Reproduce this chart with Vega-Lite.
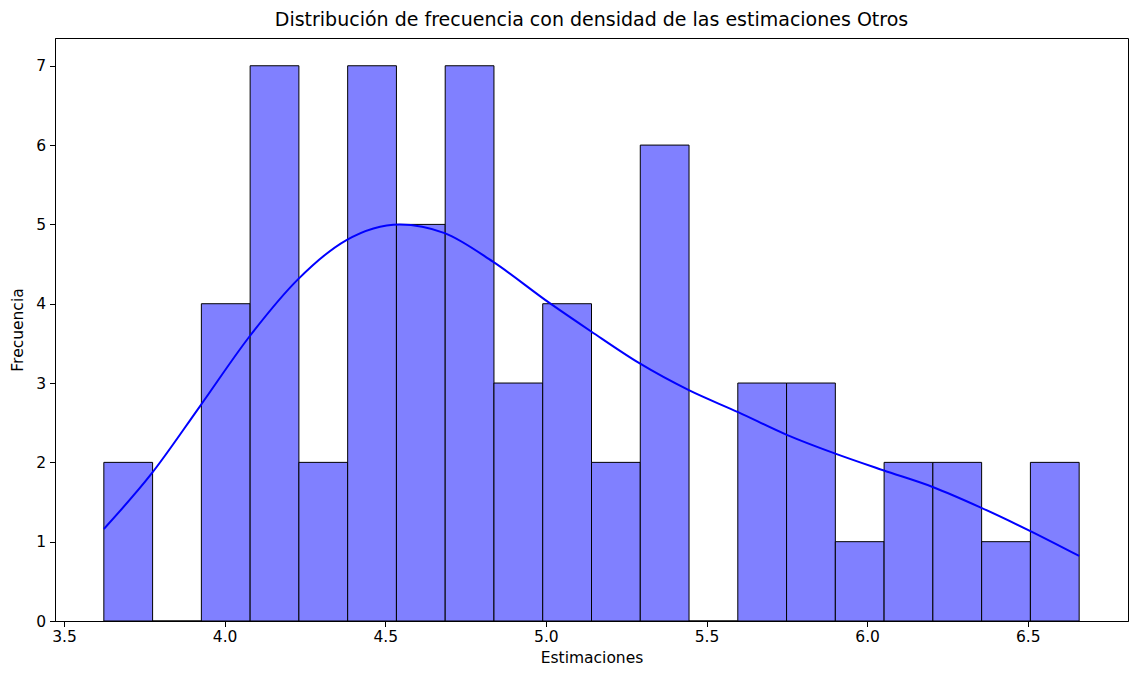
{
  "$schema": "https://vega.github.io/schema/vega-lite/v6.json",
  "autosize": {"type": "none"},
  "width": 1073,
  "height": 583,
  "padding": {"left": 55, "top": 38, "right": 4, "bottom": 61},
  "background": "white",
  "title": {
    "text": "Distribución de frecuencia con densidad de las estimaciones Otros",
    "font": "DejaVu Sans",
    "fontSize": 19,
    "fontWeight": "normal",
    "color": "black",
    "anchor": "middle",
    "offset": 8
  },
  "config": {
    "view": {"stroke": "black", "strokeWidth": 1},
    "axis": {
      "grid": false,
      "domainColor": "black",
      "tickColor": "black",
      "tickSize": 5.5,
      "labelFont": "DejaVu Sans",
      "labelFontSize": 15.5,
      "labelColor": "black",
      "titleFont": "DejaVu Sans",
      "titleFontSize": 15.5,
      "titleFontWeight": "normal",
      "titleColor": "black"
    }
  },
  "datasets": {
    "bins": [
      {"start": 3.624, "end": 3.7758, "count": 2},
      {"start": 3.7758, "end": 3.9276, "count": 0},
      {"start": 3.9276, "end": 4.0794, "count": 4},
      {"start": 4.0794, "end": 4.2312, "count": 7},
      {"start": 4.2312, "end": 4.383, "count": 2},
      {"start": 4.383, "end": 4.5348, "count": 7},
      {"start": 4.5348, "end": 4.6866, "count": 5},
      {"start": 4.6866, "end": 4.8384, "count": 7},
      {"start": 4.8384, "end": 4.9902, "count": 3},
      {"start": 4.9902, "end": 5.142, "count": 4},
      {"start": 5.142, "end": 5.2938, "count": 2},
      {"start": 5.2938, "end": 5.4456, "count": 6},
      {"start": 5.4456, "end": 5.5974, "count": 0},
      {"start": 5.5974, "end": 5.7492, "count": 3},
      {"start": 5.7492, "end": 5.901, "count": 3},
      {"start": 5.901, "end": 6.0528, "count": 1},
      {"start": 6.0528, "end": 6.2046, "count": 2},
      {"start": 6.2046, "end": 6.3564, "count": 2},
      {"start": 6.3564, "end": 6.5082, "count": 1},
      {"start": 6.5082, "end": 6.66, "count": 2}
    ],
    "kde": [
      {"x": 3.624, "y": 1.16},
      {"x": 3.773, "y": 1.86},
      {"x": 3.922, "y": 2.70},
      {"x": 4.078, "y": 3.59},
      {"x": 4.229, "y": 4.31},
      {"x": 4.378, "y": 4.80},
      {"x": 4.545, "y": 5.0},
      {"x": 4.685, "y": 4.89},
      {"x": 4.835, "y": 4.53},
      {"x": 5.011, "y": 4.01},
      {"x": 5.141, "y": 3.65},
      {"x": 5.291, "y": 3.25},
      {"x": 5.445, "y": 2.91},
      {"x": 5.600, "y": 2.63},
      {"x": 5.748, "y": 2.35},
      {"x": 5.901, "y": 2.11},
      {"x": 6.050, "y": 1.90},
      {"x": 6.204, "y": 1.69},
      {"x": 6.354, "y": 1.43},
      {"x": 6.505, "y": 1.14},
      {"x": 6.66, "y": 0.82}
    ]
  },
  "layer": [
    {
      "data": {"name": "bins"},
      "mark": {"type": "bar", "fill": "#8080ff", "stroke": "black", "strokeWidth": 1},
      "encoding": {
        "x": {
          "field": "start",
          "type": "quantitative",
          "scale": {"domain": [3.472, 6.812], "nice": false, "zero": false},
          "axis": {
            "title": "Estimaciones",
            "values": [3.5, 4.0, 4.5, 5.0, 5.5, 6.0, 6.5],
            "format": ".1f",
            "labelPadding": 3,
            "titlePadding": 5
          }
        },
        "x2": {"field": "end"},
        "y": {
          "field": "count",
          "type": "quantitative",
          "scale": {"domain": [0, 7.35], "nice": false},
          "axis": {
            "title": "Frecuencia",
            "values": [0, 1, 2, 3, 4, 5, 6, 7],
            "format": "d",
            "labelPadding": 4,
            "titlePadding": 10
          }
        },
        "y2": {"datum": 0}
      }
    },
    {
      "data": {"name": "kde"},
      "mark": {"type": "line", "color": "#0000ff", "strokeWidth": 2, "interpolate": "monotone"},
      "encoding": {
        "x": {"field": "x", "type": "quantitative"},
        "y": {"field": "y", "type": "quantitative"}
      }
    }
  ]
}
